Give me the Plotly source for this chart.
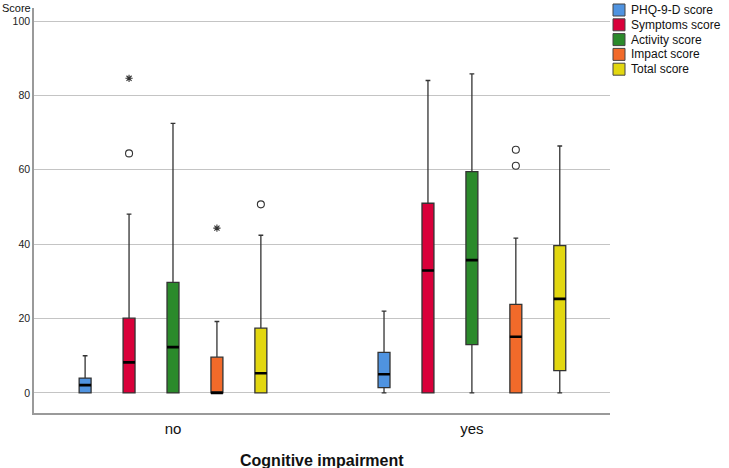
import plotly.graph_objects as go

# ---------------- data ----------------
groups = ["no", "yes"]
series_names = ["PHQ-9-D score", "Symptoms score", "Activity score", "Impact score", "Total score"]
colors = ["#4F93E0", "#D9003A", "#2B8A2B", "#F26A2A", "#E2D710"]

# per series: values for [no, yes]
q1_vals = [[0, 1.4], [0, 0], [0, 13.0], [0, 0], [0, 6.0]]
median_vals = [[2.1, 5.0], [8.2, 32.9], [12.3, 35.7], [0.0, 15.1], [5.3, 25.3]]
q3_vals = [[4.0, 10.9], [20.1, 51.0], [29.7, 59.5], [9.6, 23.8], [17.4, 39.6]]
lower_vals = [[0, 0], [0, 0], [0, 0], [0, 0], [0, 0]]
upper_vals = [[10.0, 22.0], [48.1, 84.0], [72.5, 85.8], [19.2, 41.6], [42.4, 66.4]]

# outliers
outlier_group = ["no", "no", "no", "no", "yes", "yes"]
outlier_series = [1, 1, 3, 4, 3, 3]
outlier_value = [64.4, 84.6, 44.3, 50.7, 65.4, 61.1]
outlier_kind = ["circle", "star", "star", "circle", "circle", "circle"]

y_ticks = [0, 20, 40, 60, 80, 100]

# ---------------- layout params ----------------
W, H = 729, 468
ML, MR, MT, MB = 34, 119, 8, 55
PW, PH = W - ML - MR, H - MT - MB
spacing = 0.147
box_w = 0.040
FONT = "Liberation Sans, Arial, sans-serif"


def pos(gi, si):
    return gi + (si - 2) * spacing


fig = go.Figure()

for si, name in enumerate(series_names):
    xs = [pos(gi, si) for gi in range(len(groups))]
    fig.add_trace(go.Box(
        x=xs, q1=q1_vals[si], median=median_vals[si], q3=q3_vals[si],
        lowerfence=lower_vals[si], upperfence=upper_vals[si],
        width=box_w, whiskerwidth=0.4, fillcolor=colors[si],
        line=dict(color="#333333", width=1.3), name=name, showlegend=False,
        boxpoints=False, hoverinfo="skip",
    ))
    # thick black median overlay
    fig.add_trace(go.Box(
        x=xs, q1=median_vals[si], median=median_vals[si], q3=median_vals[si],
        lowerfence=median_vals[si], upperfence=median_vals[si],
        width=box_w, whiskerwidth=0, fillcolor="rgba(0,0,0,0)",
        line=dict(color="#000000", width=2.6), showlegend=False,
        boxpoints=False, hoverinfo="skip",
    ))

for kind, sym, size in [("circle", "circle-open", 7), ("star", "asterisk-open", 6)]:
    xs, ys = [], []
    for g, s, v, k in zip(outlier_group, outlier_series, outlier_value, outlier_kind):
        if k == kind:
            xs.append(pos(groups.index(g), s))
            ys.append(v)
    fig.add_trace(go.Scatter(
        x=xs, y=ys, mode="markers", showlegend=False, hoverinfo="skip",
        marker=dict(symbol=sym, size=size, color="#333333", line=dict(color="#333333", width=1.1)),
    ))

# custom legend
shapes = []
annotations = []
for i, name in enumerate(series_names):
    cy = 10 + 14.8 * i
    shapes.append(dict(
        type="rect", xref="paper", yref="paper",
        x0=(613 - ML) / PW, x1=(625 - ML) / PW,
        y0=(H - MB - (cy + 6)) / PH, y1=(H - MB - (cy - 6)) / PH,
        fillcolor=colors[i], line=dict(color="#444444", width=1),
    ))
    annotations.append(dict(
        xref="paper", yref="paper", x=(629 - ML) / PW, y=(H - MB - cy) / PH,
        xanchor="left", yanchor="middle", text=name, showarrow=False,
        font=dict(family=FONT, size=12, color="#111111"),
    ))

annotations.append(dict(
    xref="paper", yref="paper", x=-ML / PW, y=(H - MB - 8) / PH,
    xanchor="left", yanchor="middle", text="Score", showarrow=False,
    font=dict(family=FONT, size=11, color="#111111"),
))
annotations.append(dict(
    xref="paper", yref="paper", x=0.5, y=(H - MB - 460) / PH,
    xanchor="center", yanchor="middle", text="<b>Cognitive impairment</b>", showarrow=False,
    font=dict(family=FONT, size=16, color="#111111"),
))

fig.update_layout(
    width=W, height=H,
    margin=dict(l=ML, r=MR, t=MT, b=MB, pad=0),
    plot_bgcolor="white", paper_bgcolor="white",
    boxmode="overlay",
    showlegend=False,
    shapes=shapes, annotations=annotations,
    font=dict(family=FONT, color="#222222"),
)
fig.update_xaxes(
    range=[-0.465, 1.462], tickvals=[0, 1], ticktext=groups,
    showgrid=False, zeroline=False, showline=True, linecolor="#9a9a9a", linewidth=1.5,
    ticks="outside", ticklen=1, tickcolor="rgba(0,0,0,0)",
    tickfont=dict(family=FONT, size=15, color="#111111"),
)
fig.update_yaxes(
    range=[-5.4, 103.5], tickvals=y_ticks,
    showgrid=True, gridcolor="#c4c4c4", gridwidth=1,
    zeroline=False, showline=True, linecolor="#9a9a9a", linewidth=1.5,
    ticks="", tickfont=dict(family=FONT, size=10.5, color="#222222"),
)

fig.write_html(
    "out.html",
    config={"displayModeBar": False},
    post_script="document.body.style.margin='0px';document.body.style.overflow='hidden';",
)
